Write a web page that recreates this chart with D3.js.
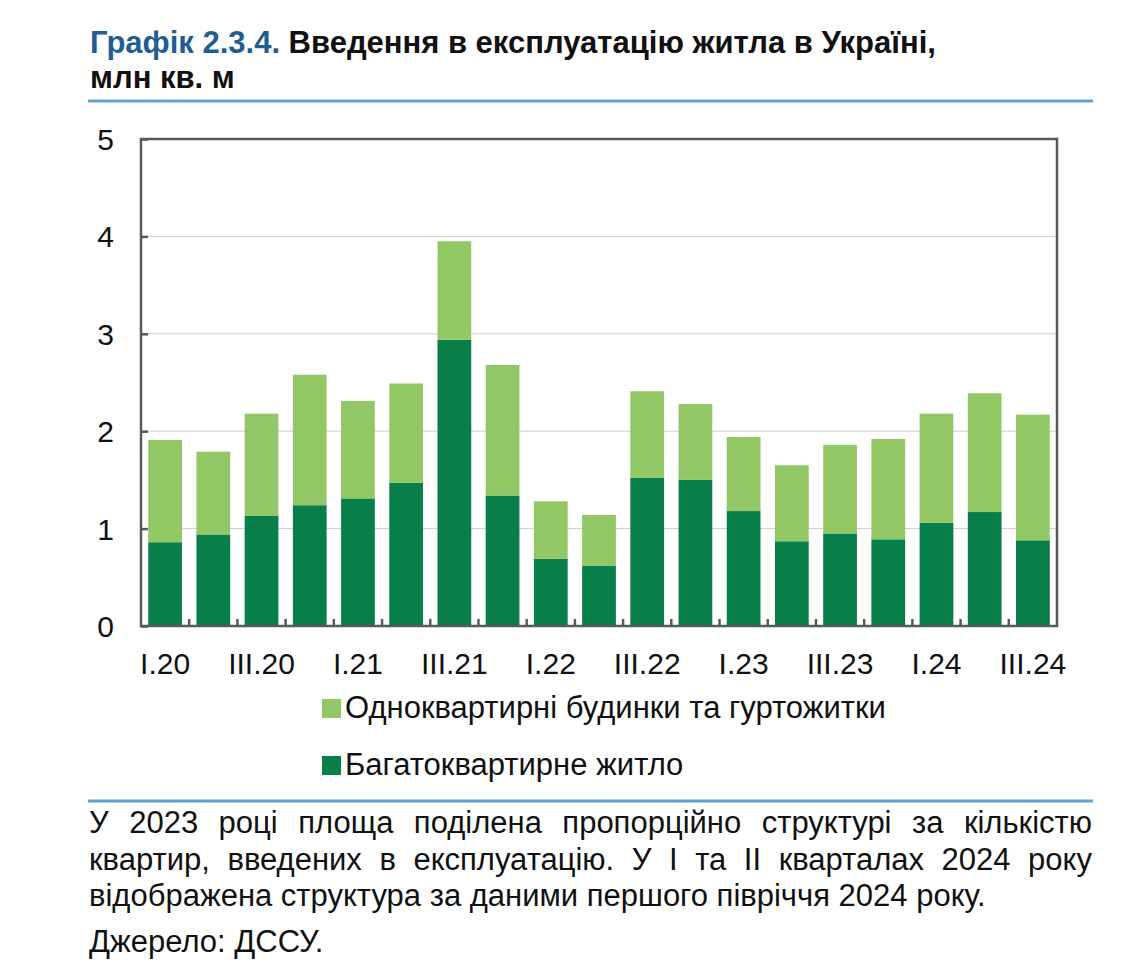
<!DOCTYPE html>
<html><head><meta charset="utf-8">
<script src="https://cdn.jsdelivr.net/npm/d3@7"></script>
<style>body{margin:0;background:#fff}svg{display:block}</style>
</head><body>
<svg id="c" width="1144" height="966"></svg>
<script>
const categories = ["I.20","II.20","III.20","IV.20","I.21","II.21","III.21","IV.21","I.22","II.22","III.22","IV.22","I.23","II.23","III.23","IV.23","I.24","II.24","III.24"];
const multiFlat = [0.86,0.94,1.13,1.24,1.31,1.47,2.94,1.34,0.69,0.62,1.52,1.50,1.18,0.87,0.95,0.89,1.06,1.17,0.88];
const totals    = [1.91,1.79,2.18,2.58,2.31,2.49,3.95,2.68,1.28,1.14,2.41,2.28,1.94,1.65,1.86,1.92,2.18,2.39,2.17];
const singleFamily = totals.map((t,i)=>+(t-multiFlat[i]).toFixed(2));
const yTicks = [0,1,2,3,4,5];
const seriesNames = ["Одноквартирні будинки та гуртожитки","Багатоквартирне житло"];
const seriesColors = ["#92c766","#087e48"];

const svg = d3.select("#c");
const font = "'Liberation Sans', Arial, sans-serif";
const L=141, R=1057, T=139, B=626;

// Title
const title = svg.append("text").attr("x",90).attr("y",53).attr("font-family",font).attr("font-weight","bold").attr("font-size",31);
title.append("tspan").attr("fill","#1f5e94").text("Графік 2.3.4. ");
title.append("tspan").attr("fill","#111").text("Введення в експлуатацію житла в Україні,");
svg.append("text").attr("x",90).attr("y",88).attr("font-family",font).attr("font-weight","bold").attr("font-size",31).attr("fill","#111").text("млн кв. м");
svg.append("line").attr("x1",88).attr("x2",1093).attr("y1",101).attr("y2",101).attr("stroke","#5ea5cb").attr("stroke-width",3);

const x = d3.scaleBand().domain(categories).range([L,R]).paddingInner(0.3).paddingOuter(0.15);
const y = d3.scaleLinear().domain([0,5]).range([B,T]);

// grid
svg.append("g").selectAll("line").data(yTicks.filter(d=>d>0&&d<5)).join("line")
  .attr("x1",L).attr("x2",R).attr("y1",d=>y(d)).attr("y2",d=>y(d)).attr("stroke","#cfcfcf").attr("stroke-width",1);

// stacked bars
const stackData = categories.map((c,i)=>({cat:c, multi:multiFlat[i], single:singleFamily[i]}));
const stack = d3.stack().keys(["multi","single"])(stackData);
const colorByKey = {multi:seriesColors[1], single:seriesColors[0]};
svg.append("g").selectAll("g").data(stack).join("g").attr("fill",s=>colorByKey[s.key])
  .selectAll("rect").data(s=>s).join("rect")
  .attr("x",d=>x(d.data.cat)).attr("width",x.bandwidth())
  .attr("y",d=>y(d[1])).attr("height",d=>y(d[0])-y(d[1]));

// frame
svg.append("rect").attr("x",L).attr("y",T).attr("width",R-L).attr("height",B-T).attr("fill","none").attr("stroke","#595959").attr("stroke-width",2.5);

// y axis
const yAxis = svg.append("g").attr("transform",`translate(${L},0)`).call(d3.axisRight(y).tickValues(yTicks).tickSize(7).tickFormat(""));
yAxis.select(".domain").remove();
yAxis.selectAll("line").attr("stroke","#595959").attr("stroke-width",2.5);
svg.append("g").selectAll("text").data(yTicks).join("text")
  .attr("x",114).attr("y",d=>y(d)+11).attr("text-anchor","end").attr("font-family",font).attr("font-size",30).attr("fill","#111").text(d=>d);

// x ticks between bars
const step = x.step();
const bounds = categories.slice(1).map(c=>x(c)-(step-x.bandwidth())/2);
svg.append("g").selectAll("line").data(bounds).join("line")
  .attr("x1",d=>d).attr("x2",d=>d).attr("y1",B).attr("y2",B-7).attr("stroke","#595959").attr("stroke-width",2.5);
const xAxis = svg.append("g").attr("transform",`translate(0,${B})`).call(d3.axisBottom(x).tickSize(0).tickFormat((d,i)=>i%2===0?d:""));
xAxis.select(".domain").remove();
xAxis.selectAll("text").attr("font-family",font).attr("font-size",30).attr("fill","#111").attr("dy",0).attr("y",48);

// legend
const leg = svg.append("g");
seriesNames.forEach((n,i)=>{
  const yy = 718 + i*57;
  leg.append("rect").attr("x",322).attr("y",yy-19).attr("width",19).attr("height",19).attr("fill",seriesColors[i]);
  leg.append("text").attr("x",345).attr("y",yy).attr("font-family",font).attr("font-size",31).attr("fill","#111").text(n);
});

// footnote
svg.append("line").attr("x1",88).attr("x2",1093).attr("y1",801).attr("y2",801).attr("stroke","#5ea5cb").attr("stroke-width",3);
const noteLines = [
  {t:"У 2023 році площа поділена пропорційно структурі за кількістю", j:true},
  {t:"квартир, введених в експлуатацію. У I та II кварталах 2024 року", j:true},
  {t:"відображена структура за даними першого півріччя 2024 року.", j:false}
];
noteLines.forEach((ln,i)=>{
  const t = svg.append("text").attr("x",89).attr("y",833+i*36.5).attr("font-family",font).attr("font-size",31).attr("fill","#111").text(ln.t);
  if(ln.j){
    const w = t.node().getComputedTextLength();
    const gaps = ln.t.split(" ").length-1;
    t.attr("word-spacing",(1092-89-w)/gaps);
  }
});
svg.append("text").attr("x",89).attr("y",952).attr("font-family",font).attr("font-size",31).attr("fill","#111").text("Джерело: ДССУ.");
</script>
</body></html>
